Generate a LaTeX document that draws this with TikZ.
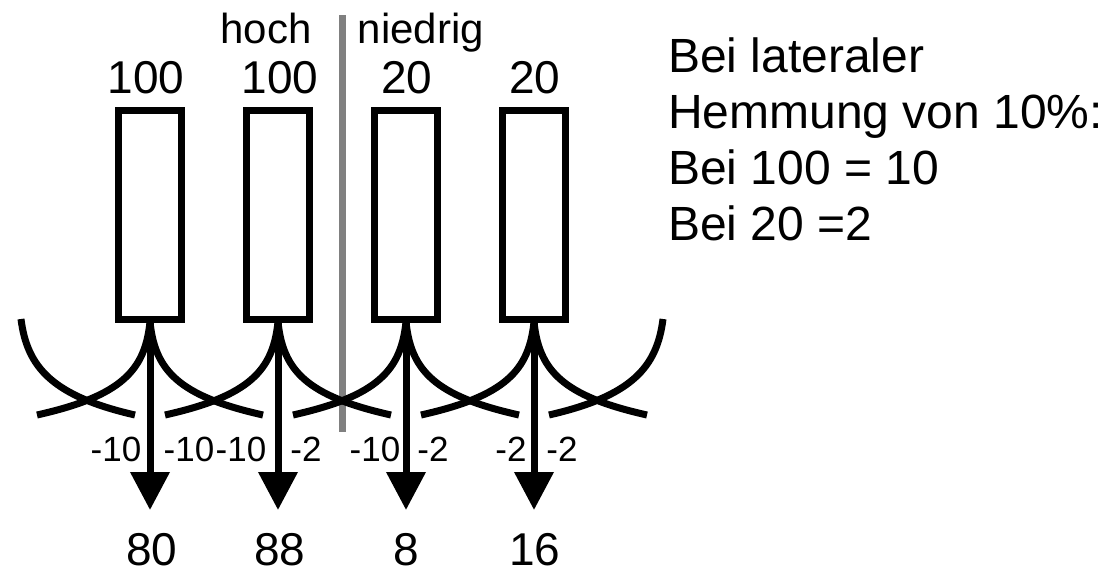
\documentclass[tikz,border=0pt]{standalone}
\usepackage{fontspec}
\setmainfont{Liberation Sans}
\usetikzlibrary{arrows.meta}
\definecolor{divgray}{RGB}{128,128,128}
\begin{document}
\begin{tikzpicture}[x=1pt,y=-1pt,
  cell/.style={draw=black,line width=7pt,minimum width=63pt,minimum height=209pt,inner sep=0pt,outer sep=0pt},
  thick line/.style={line width=7pt,black},
  outarrow/.style={line width=7pt,black,-{Triangle[width=38pt,length=38pt]}},
  bigtxt/.style={font=\fontsize{46}{50}\selectfont,inner sep=0pt,anchor=base},
  midtxt/.style={font=\fontsize{42}{46}\selectfont,inner sep=0pt,anchor=base},
  smalltxt/.style={font=\fontsize{35}{38}\selectfont,inner sep=0pt,anchor=base},
  righttxt/.style={font=\fontsize{48}{52}\selectfont,inner sep=0pt,anchor=base west}]
\useasboundingbox (0,0) rectangle (1104,573);
% divider
\coordinate (gtop) at (342,15);
\coordinate (gbot) at (342,432);
\draw[line width=7pt,divgray] (gtop) -- (gbot);
% boxes
\foreach \i/\cx in {1/150,2/278,3/406,4/534}{
  \node[cell] (b\i) at (\cx,215) {};
  \coordinate (t\i) at (\cx,510);
}
% inhibition curves
\foreach \cx in {150,278,406,534}{
  \draw[thick line] (\cx,322) .. controls ({\cx-5},370) and ({\cx-28},396) .. ({\cx-113},415);
  \draw[thick line] (\cx,322) .. controls ({\cx+5},370) and ({\cx+28},396) .. ({\cx+113},415);
}
\coordinate (lstart) at (21,319);
\coordinate (rstart) at (663,319);
\draw[thick line] (lstart) .. controls (27,367) and (52,396) .. (135,415);
\draw[thick line] (rstart) .. controls (657,367) and (632,396) .. (549,415);
% arrows
\foreach \i in {1,2,3,4}{
  \draw[outarrow] (b\i.south) -- (t\i);
}
% top labels
\node[midtxt] (hoch) at (266,43) {hoch};
\node[midtxt] (niedrig) at (421,43) {niedrig};
\node[bigtxt] (i1) at (146,93) {100};
\node[bigtxt] (i2) at (280,93) {100};
\node[bigtxt] (i3) at (407,93) {20};
\node[bigtxt] (i4) at (535,93) {20};
% inhibition labels
\node[smalltxt] (l1) at (116,461) {-10};
\node[smalltxt] (l2) at (189,461) {-10};
\node[smalltxt] (l3) at (241,461) {-10};
\node[smalltxt] (l4) at (306,461) {-2};
\node[smalltxt] (l5) at (375,461) {-10};
\node[smalltxt] (l6) at (433,461) {-2};
\node[smalltxt] (l7) at (511,461) {-2};
\node[smalltxt] (l8) at (562,461) {-2};
% outputs
\node[bigtxt] (o1) at (152,565) {80};
\node[bigtxt] (o2) at (280,565) {88};
\node[bigtxt] (o3) at (406,565) {8};
\node[bigtxt] (o4) at (535,565) {16};
% right text
\node[righttxt] (r1) at (668,72) {Bei lateraler};
\node[righttxt] (r2) at (668,128) {Hemmung von 10\%:};
\node[righttxt] (r3) at (668,184) {Bei 100 = 10};
\node[righttxt] (r4) at (668,240) {Bei 20 =2};
\end{tikzpicture}
\end{document}
